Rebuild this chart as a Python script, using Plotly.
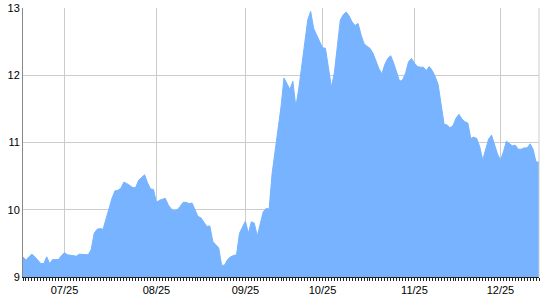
import plotly.graph_objects as go

values = [
    9.30, 9.25, 9.30, 9.34, 9.30, 9.25, 9.20, 9.20, 9.30, 9.20,
    9.26, 9.26, 9.26, 9.32, 9.36, 9.33, 9.32, 9.31, 9.31, 9.34,
    9.34, 9.33, 9.33, 9.41, 9.65, 9.71, 9.72, 9.71, 9.87, 10.05,
    10.17, 10.28, 10.29, 10.32, 10.41, 10.39, 10.36, 10.33, 10.33, 10.44,
    10.48, 10.52, 10.40, 10.31, 10.30, 10.11, 10.14, 10.16, 10.17, 10.07,
    10.01, 9.99, 10.00, 10.05, 10.11, 10.11, 10.09, 10.10, 10.01, 9.90,
    9.88, 9.82, 9.75, 9.76, 9.53, 9.48, 9.43, 9.17, 9.18, 9.26,
    9.30, 9.32, 9.33, 9.65, 9.75, 9.83, 9.65, 9.82, 9.80, 9.61,
    9.79, 9.97, 10.02, 10.01, 10.54, 10.86, 11.19, 11.53, 11.96, 11.88,
    11.79, 11.91, 11.53, 11.80, 12.13, 12.50, 12.82, 12.95, 12.70, 12.60,
    12.50, 12.41, 12.40, 12.13, 11.82, 12.04, 12.43, 12.82, 12.90, 12.94,
    12.88, 12.79, 12.74, 12.77, 12.60, 12.47, 12.43, 12.40, 12.33, 12.21,
    12.10, 12.02, 12.16, 12.25, 12.29, 12.18, 12.03, 11.91, 11.93, 12.03,
    12.20, 12.25, 12.18, 12.13, 12.12, 12.12, 12.07, 12.13, 12.07, 11.98,
    11.86, 11.56, 11.27, 11.26, 11.22, 11.25, 11.36, 11.42, 11.35, 11.31,
    11.29, 11.06, 11.08, 11.06, 10.94, 10.74, 10.89, 11.05, 11.11, 10.95,
    10.83, 10.74, 10.86, 11.02, 10.98, 10.95, 10.96, 10.90, 10.90, 10.92,
    10.92, 10.98, 10.90, 10.71, 10.71,
]
tick_index = [14, 45, 75, 101, 132, 161]
tick_labels = ["07/25", "08/25", "09/25", "10/25", "11/25", "12/25"]
y_ticks = [9, 10, 11, 12, 13]

x = list(range(len(values)))

fig = go.Figure()
fig.add_trace(go.Scatter(
    x=x, y=values, mode="lines", fill="tozeroy",
    line=dict(color="#77b3ff", width=1),
    fillcolor="#77b3ff", hoverinfo="skip",
))

fig.update_layout(
    width=540, height=300,
    margin=dict(l=23, r=1, t=8, b=23),
    paper_bgcolor="white", plot_bgcolor="white",
    showlegend=False,
    font=dict(family="Liberation Sans, Arial, sans-serif", size=11, color="black"),
    shapes=[dict(type="line", xref="paper", yref="paper", x0=1, x1=1, y0=0, y1=1,
                 line=dict(color="#cccccc", width=1))],
)
fig.update_xaxes(
    range=[0, len(values) - 1],
    tickmode="array", tickvals=tick_index, ticktext=tick_labels,
    showgrid=True, gridcolor="#cccccc", gridwidth=1,
    ticks="outside", ticklen=3, tickcolor="#222222", tickwidth=1,
    minor=dict(tickmode="linear", tick0=0, dtick=1, ticks="outside",
               ticklen=3, tickcolor="#222222", tickwidth=1, showgrid=False),
    showline=True, linecolor="#222222", linewidth=1,
    zeroline=False, layer="below traces",
)
fig.update_yaxes(
    range=[9, 13], tickmode="array", tickvals=y_ticks,
    showgrid=True, gridcolor="#cccccc", gridwidth=1,
    ticks="", showline=True, linecolor="#888888", linewidth=1,
    zeroline=False, ticklabelstandoff=0,
)
fig.write_html("out.html")
